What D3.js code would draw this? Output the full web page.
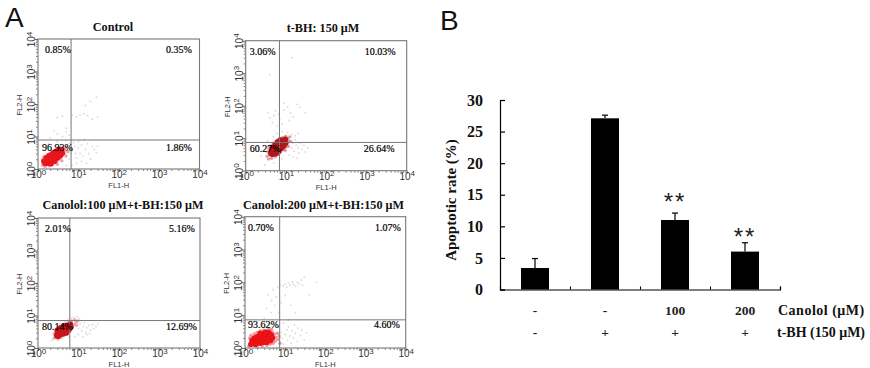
<!DOCTYPE html>
<html>
<head>
<meta charset="utf-8">
<script src="https://d3js.org/d3.v7.min.js"></script>
<style>
  html, body { margin: 0; padding: 0; background: #fff; }
  svg { display: block; }
</style>
</head>
<body>
<div id="chart"></div>
<script>
// Panel A: flow cytometry dot plots, values are [FL1-H, FL2-H]
const controlCore = [[1.4,1.7],[1.5,1.5],[1.6,1.8],[1.7,1.5],[1.8,2.0],[1.9,1.7],[2.0,1.6],[2.0,2.2],[2.2,1.9],[2.2,2.4],[2.4,2.1],[2.5,2.6],[2.6,2.2],[2.8,2.8],[2.9,2.4],[3.0,3.1],[3.2,2.8],[3.3,3.4],[3.6,3.3],[3.7,3.8],[1.6,2.2],[1.9,2.6],[2.3,3.0],[2.8,3.5],[3.3,4.0],[2.1,1.45],[2.6,1.75],[3.1,2.2],[3.6,2.6],[4.0,3.1]];
const controlMid = [[1.3,1.3],[1.3,2.0],[1.4,2.4],[1.7,2.7],[2.0,3.0],[2.3,3.4],[2.7,3.8],[3.1,4.2],[3.6,4.5],[4.2,4.3],[4.6,3.8],[4.4,3.0],[4.0,2.6],[3.6,2.2],[3.1,1.9],[2.7,1.6],[2.3,1.4],[1.9,1.25],[1.5,1.2],[5,4.6],[5.5,3.4],[4.9,2.5],[3.9,1.8],[3.0,1.4]];
const controlSparse = [[6,2],[6.5,3],[7,4],[8,5],[8.5,3],[9,2.2],[10,4.5],[11,3],[12,5.5],[13,2.5],[15,4],[17,6],[18,3],[20,2],[22,5],[25,4],[28,3.2],[7,1.3],[5,1.3],[9,1.5],[12,1.7],[16,1.5],[30,5],[2,9],[3,12],[4,10],[5,14],[2.5,15],[6,11],[3,38],[4,42],[7,45],[9,40],[11,46],[14,50],[17,44],[22,34],[15,90],[20,120],[28,160],[30,40],[5,18],[1.8,6],[3,7],[5,7.5],[6,6],[7.5,6.5],[10,7],[14,8]];

const tbhCore = [[4.2,3.4],[4.4,4.2],[4.6,3.2],[4.8,4.8],[5.0,3.8],[5.2,4.4],[5.4,5.4],[5.6,3.9],[5.8,4.8],[6.0,6.0],[6.2,4.4],[6.4,5.4],[6.6,6.8],[6.8,5.0],[7.0,6.2],[7.4,7.6],[7.6,5.8],[7.8,7.0],[8.2,8.4],[8.6,6.8],[9.0,8.0],[9.6,9.2],[4.6,5.2],[5.4,6.4],[6.2,7.6],[7.2,8.8],[5.6,3.3],[6.6,3.9],[7.6,4.8],[8.8,5.8],[9.8,7.0]];
const tbhMid = [[3.4,2.8],[3.5,3.8],[3.8,4.8],[4.2,5.8],[4.8,6.6],[5.4,7.6],[6.2,8.6],[7.2,9.6],[8.2,10.5],[9.8,11.5],[11,10],[11.5,8.4],[10.6,6.8],[9.8,5.4],[8.6,4.6],[7.4,3.9],[6.4,3.2],[5.4,2.7],[4.4,2.4],[3.7,2.3],[12.5,11],[13,8],[11.5,5.6],[9.6,4.2]];
const tbhSparse = [[14,5],[15,7],[16,4],[17,9],[18,6],[20,5],[21,3.5],[23,7],[25,4.5],[28,6],[30,3.8],[35,5],[12,3],[15,2.6],[19,2.4],[8,2.3],[5,1.7],[3,1.5],[2.4,2.8],[2.8,6],[3.5,8.5],[4.8,11],[6,14],[8,16],[11,15],[14,13],[17,12],[20,14],[4,42],[5,50],[3.6,60],[5.5,70],[7,38],[6.5,55],[9,75],[11,90],[13,60],[15,45],[12,35],[19,110],[8,28],[6,24],[30,60],[14,3000],[4,900],[22,90],[4.6,30],[9,120]];

const canololLowCore = [[2.9,2.4],[3.0,2.9],[3.2,2.3],[3.4,3.2],[3.5,2.6],[3.7,3.4],[3.8,2.8],[4.0,3.8],[4.1,3.1],[4.3,3.6],[4.4,4.2],[4.6,3.4],[4.8,4.0],[5.0,4.6],[5.2,3.8],[5.4,4.4],[5.7,5.0],[6.0,4.5],[6.3,5.4],[4.2,2.7],[4.9,3.2],[3.0,3.5],[3.6,4.2],[4.3,4.8],[5.0,2.9],[5.8,3.6],[6.5,4.4]];
const canololLowMid = [[2.5,2.0],[2.5,2.7],[2.8,3.4],[3.2,4.0],[3.7,4.6],[4.3,5.2],[5.0,5.8],[5.8,6.4],[6.8,6.8],[8.0,7.4],[8.6,6.2],[7.8,5.2],[7.0,4.4],[6.2,3.7],[5.4,3.1],[4.6,2.6],[3.8,2.2],[3.1,1.9],[9.5,6.8],[9.0,5.0]];
const canololLowSparse = [[10,4],[11,5.5],[12,3.4],[13,4.6],[14,6],[15,3],[16,4.2],[18,5],[20,3.6],[22,5.2],[24,4],[27,4.6],[10,2.6],[13,2.2],[8,2.2],[6,2.2],[2.2,1.7],[4,1.9],[5.5,7.4],[6.5,8.2],[7.5,8.8],[9,9.2],[10.5,8],[4.5,6.6],[3.4,5.6],[16,2.6],[30,5.6],[12,7],[19,2.8]];

const canololHighCore = [[1.4,1.3],[1.5,1.7],[1.6,1.4],[1.7,2.0],[1.8,1.3],[1.9,1.7],[2.0,1.4],[2.0,2.2],[2.2,1.6],[2.2,1.9],[2.3,2.4],[2.4,1.4],[2.5,1.8],[2.6,2.1],[2.7,1.5],[2.7,2.6],[2.9,1.9],[3.0,2.3],[3.0,1.5],[3.2,2.7],[3.3,1.8],[3.4,2.1],[3.5,1.5],[3.6,2.5],[3.8,1.9],[3.9,2.9],[4.1,2.2],[4.3,1.7],[4.5,2.5],[4.8,2.0],[3.2,3.0],[2.4,2.8]];
const canololHighMid = [[1.25,1.15],[1.3,2.0],[1.4,2.4],[1.7,2.7],[2.0,3.0],[2.4,3.3],[2.9,3.5],[3.5,3.4],[4.2,3.3],[4.9,3.0],[5.4,2.6],[5.8,2.1],[5.6,1.6],[5.0,1.4],[4.2,1.3],[3.5,1.2],[2.7,1.15],[2.0,1.12],[6.4,2.8],[6.6,1.8],[7.0,2.3],[7.4,1.4],[4.6,3.7],[3.9,3.8]];
const canololHighSparse = [[8,3],[8.5,2],[9,1.3],[10,2.6],[11,3.6],[11.5,1.7],[12,4.4],[13,2.3],[14,1.4],[15,3.4],[16,2],[17,5],[18,2.8],[20,1.6],[21,4],[24,2.4],[26,3.6],[30,1.8],[34,2.9],[7,4.6],[6,5.6],[9,5.8],[12,7],[4,5.8],[2.5,5],[3,8],[4.5,12],[3.4,16],[5.5,20],[4.6,28],[6,36],[3.8,42],[5,60],[6.5,70],[7.5,82],[9,78],[10,90],[11,72],[12,98],[13,82],[15,105],[16,88],[18,78],[20,100],[22,90],[25,118],[27,82],[30,145],[40,42],[60,100],[8,24],[10,40],[14,20],[18,12],[7,12]];

const panelTitles = ["Control", "t-BH: 150 μM", "Canolol:100 μM+t-BH:150 μM", "Canolol:200 μM+t-BH:150 μM"];
const panelPercents = [
  ["0.85%", "0.35%", "96.93%", "1.86%"],
  ["3.06%", "10.03%", "60.27%", "26.64%"],
  ["2.01%", "5.16%", "80.14%", "12.69%"],
  ["0.70%", "1.07%", "93.62%", "4.60%"]
];
const panelCores = [controlCore, tbhCore, canololLowCore, canololHighCore];
const panelMids = [controlMid, tbhMid, canololLowMid, canololHighMid];
const panelSparse = [controlSparse, tbhSparse, canololLowSparse, canololHighSparse];
const gateX = [6.6, 6.9, 6.1, 7.3];
const gateY = [7.8, 7.4, 7.0, 7.2];
const logTicks = [1, 10, 100, 1000, 10000];
const minorLogTicks = [2,3,4,5,6,7,8,9,20,30,40,50,60,70,80,90,200,300,400,500,600,700,800,900,2000,3000,4000,5000,6000,7000,8000,9000];

// Panel B: bar chart
const groups = ["ctrl", "tbh", "can100", "can200"];
const rates = [3.4, 27.1, 11, 6];
const rateErrors = [1.5, 0.5, 1.1, 1.4];
const significance = ["", "", "**", "**"];
const canololRow = ["-", "-", "100", "200"];
const tbhRow = ["-", "+", "+", "+"];
const yTicks = [0, 5, 10, 15, 20, 25, 30];
const xEdgeTicks = [1, 2, 3, 4];

const width = 870, height = 368;
const serif = "'Liberation Serif', serif";
const sans = "'Liberation Sans', sans-serif";

const svg = d3.select("#chart").append("svg")
  .attr("width", width)
  .attr("height", height)
  .style("background", "#ffffff");

// Slight blur so the dots read like the soft scan
svg.append("defs").append("filter").attr("id", "soft")
  .append("feGaussianBlur").attr("stdDeviation", 0.45);

// Panel frames in page pixels, plus text nudges
const panels = [
  { left: 38, right: 199.5, top: 39, bottom: 169, titleX: 113, titleY: 31, dotColor: "#e8141c", midColor: "#e8606a", tl: [7, 14], tr: [128, 14], bl: [4, 112], br: [128, 112] },
  { left: 245.7, right: 406.7, top: 40.7, bottom: 170.7, titleX: 323, titleY: 32, dotColor: "#b3141a", midColor: "#d0606a", tl: [4, 14], tr: [119, 14], bl: [4, 111], br: [118, 111] },
  { left: 38, right: 200, top: 218, bottom: 348, titleX: 123, titleY: 209, dotColor: "#c8141c", midColor: "#e27a8a", tl: [7, 14], tr: [131, 14], bl: [4, 112], br: [128, 112] },
  { left: 245, right: 405.7, top: 216.7, bottom: 348, titleX: 323.5, titleY: 209, dotColor: "#ea1218", midColor: "#e8505a", tl: [3, 14], tr: [130, 14], bl: [3, 111], br: [129, 111] }
];

function addPowerLabels(axisGroup, rotate) {
  axisGroup.selectAll(".tick text").each(function (d) {
    const t = d3.select(this);
    t.text("10").attr("fill", "#333");
    t.append("tspan")
      .attr("dy", -3.5)
      .style("font-size", "8px")
      .text(Math.round(Math.log10(d)));
    if (rotate) t.attr("transform", "rotate(-90)").attr("x", 0).attr("y", -3).attr("dy", 0).attr("text-anchor", "middle");
  });
}

panels.forEach((p, i) => {
  const x = d3.scaleLog().domain([1, 10000]).range([p.left, p.right]);
  const y = d3.scaleLog().domain([1, 10000]).range([p.bottom, p.top]);
  const g = svg.append("g").attr("class", "panel");

  // Dots go under the frame and the percent text
  const dots = g.append("g").attr("filter", "url(#soft)");
  dots.append("g").selectAll("circle").data(panelSparse[i]).join("circle")
    .attr("cx", d => x(d[0])).attr("cy", d => y(d[1])).attr("r", 0.9)
    .attr("fill", "#b4b4b4").attr("opacity", 0.5);
  dots.append("g").selectAll("circle").data(panelMids[i]).join("circle")
    .attr("cx", d => x(d[0])).attr("cy", d => y(d[1])).attr("r", 1.7)
    .attr("fill", p.midColor).attr("opacity", 0.6);
  dots.append("g").selectAll("circle").data(panelCores[i]).join("circle")
    .attr("cx", d => x(d[0])).attr("cy", d => y(d[1])).attr("r", 2.8)
    .attr("fill", p.dotColor);

  g.append("rect")
    .attr("x", p.left).attr("y", p.top)
    .attr("width", p.right - p.left).attr("height", p.bottom - p.top)
    .attr("fill", "none").attr("stroke", "#777").attr("stroke-width", 1.1);

  // Quadrant gates
  g.append("line").attr("x1", x(gateX[i])).attr("x2", x(gateX[i])).attr("y1", p.top).attr("y2", p.bottom)
    .attr("stroke", "#777").attr("stroke-width", 1);
  g.append("line").attr("x1", p.left).attr("x2", p.right).attr("y1", y(gateY[i])).attr("y2", y(gateY[i]))
    .attr("stroke", "#777").attr("stroke-width", 1);

  // Minor log ticks
  g.append("g").attr("transform", `translate(0,${p.bottom})`)
    .call(d3.axisBottom(x).tickValues(minorLogTicks).tickSize(2).tickFormat(""))
    .call(a => a.select(".domain").remove())
    .call(a => a.selectAll("line").attr("stroke", "#888"));
  g.append("g").attr("transform", `translate(${p.left},0)`)
    .call(d3.axisLeft(y).tickValues(minorLogTicks).tickSize(2).tickFormat(""))
    .call(a => a.select(".domain").remove())
    .call(a => a.selectAll("line").attr("stroke", "#888"));

  // Major ticks with 10^n labels
  const xAxis = g.append("g").attr("transform", `translate(0,${p.bottom})`)
    .call(d3.axisBottom(x).tickValues(logTicks).tickSize(3).tickPadding(-1))
    .style("font-family", sans).style("font-size", "10px");
  xAxis.select(".domain").remove();
  xAxis.selectAll("line").attr("stroke", "#666");
  addPowerLabels(xAxis, false);

  const yAxis = g.append("g").attr("transform", `translate(${p.left},0)`)
    .call(d3.axisLeft(y).tickValues(logTicks).tickSize(3).tickPadding(1))
    .style("font-family", sans).style("font-size", "10px");
  yAxis.select(".domain").remove();
  yAxis.selectAll("line").attr("stroke", "#666");
  addPowerLabels(yAxis, true);

  g.append("text")
    .attr("x", (p.left + p.right) / 2).attr("y", p.bottom + 19)
    .attr("text-anchor", "middle").attr("fill", "#333")
    .style("font-family", sans).style("font-size", "7.5px")
    .text("FL1-H");
  g.append("text")
    .attr("transform", `translate(${p.left - 16},${(p.top + p.bottom) / 2 + 1}) rotate(-90)`)
    .attr("text-anchor", "middle").attr("fill", "#333")
    .style("font-family", sans).style("font-size", "7.5px")
    .text("FL2-H");

  g.append("text")
    .attr("x", p.titleX).attr("y", p.titleY)
    .attr("text-anchor", "middle").attr("fill", "#111")
    .style("font-family", serif).style("font-weight", "bold").style("font-size", "12.2px")
    .text(panelTitles[i]);

  [p.tl, p.tr, p.bl, p.br].forEach((off, q) => {
    g.append("text")
      .attr("x", p.left + off[0]).attr("y", p.top + off[1])
      .attr("fill", "#000").attr("stroke", "#000").attr("stroke-width", 0.2)
      .style("font-family", serif).style("font-size", "10px")
      .text(panelPercents[i][q]);
  });
});

svg.append("text").attr("x", 5).attr("y", 27)
  .style("font-family", sans).style("font-size", "28px").attr("fill", "#111").text("A");
svg.append("text").attr("x", 440).attr("y", 30)
  .style("font-family", sans).style("font-size", "28px").attr("fill", "#111").text("B");

// Bar chart
const bar = svg.append("g").attr("class", "bars");
const xBand = d3.scaleBand().domain(groups).range([500, 780]).paddingInner(0.6).paddingOuter(0.3);
const xEdges = d3.scaleLinear().domain([0, 4]).range([500, 780]);
const yRate = d3.scaleLinear().domain([0, 30]).range([289.5, 100]);

bar.selectAll(".err").data(groups).join("line")
  .attr("class", "err")
  .attr("x1", d => xBand(d) + xBand.bandwidth() / 2)
  .attr("x2", d => xBand(d) + xBand.bandwidth() / 2)
  .attr("y1", (d, i) => yRate(rates[i]))
  .attr("y2", (d, i) => yRate(rates[i] + rateErrors[i]))
  .attr("stroke", "#000").attr("stroke-width", 1.2);
bar.selectAll(".cap").data(groups).join("line")
  .attr("class", "cap")
  .attr("x1", d => xBand(d) + xBand.bandwidth() / 2 - 3)
  .attr("x2", d => xBand(d) + xBand.bandwidth() / 2 + 3)
  .attr("y1", (d, i) => yRate(rates[i] + rateErrors[i]))
  .attr("y2", (d, i) => yRate(rates[i] + rateErrors[i]))
  .attr("stroke", "#000").attr("stroke-width", 1.2);
bar.selectAll(".bar").data(groups).join("rect")
  .attr("class", "bar")
  .attr("x", d => xBand(d))
  .attr("width", xBand.bandwidth())
  .attr("y", (d, i) => yRate(rates[i]))
  .attr("height", (d, i) => yRate(0) - yRate(rates[i]))
  .attr("fill", "#000");

const yAxisBar = bar.append("g").attr("transform", "translate(500,0)")
  .call(d3.axisLeft(yRate).tickValues(yTicks).tickSize(-5).tickPadding(17))
  .style("font-family", serif).style("font-size", "16px").style("font-weight", "bold");
yAxisBar.select(".domain").attr("stroke-width", 1.2);
yAxisBar.selectAll("line").attr("stroke-width", 1.2);
yAxisBar.selectAll("text").attr("fill", "#111");

const xAxisBar = bar.append("g").attr("transform", "translate(0,289.5)")
  .call(d3.axisBottom(xEdges).tickValues(xEdgeTicks).tickSize(-3).tickFormat(""));
xAxisBar.select(".domain").attr("stroke-width", 1.2);
xAxisBar.selectAll("line").attr("stroke-width", 1.1);

bar.append("text")
  .attr("transform", "translate(456,200) rotate(-90)")
  .attr("text-anchor", "middle").attr("fill", "#111")
  .style("font-family", serif).style("font-weight", "bold").style("font-size", "15px")
  .text("Apoptotic rate (%)");

// Star baselines sit at the error cap plus a per-group nudge
const sigNudge = [0, 0, -3, 2];
bar.selectAll(".sig").data(groups).join("text")
  .attr("class", "sig")
  .attr("x", d => xBand(d) + xBand.bandwidth() / 2)
  .attr("y", (d, i) => yRate(rates[i] + rateErrors[i]) + sigNudge[i])
  .attr("text-anchor", "middle").attr("fill", "#222")
  .style("font-family", sans).style("font-size", "24px").style("letter-spacing", "2px")
  .text((d, i) => significance[i]);

function addRow(values, y, label, labelX, spacing) {
  bar.append("g").selectAll("text").data(values).join("text")
    .attr("x", (d, i) => xBand(groups[i]) + xBand.bandwidth() / 2)
    .attr("y", y).attr("text-anchor", "middle").attr("fill", "#222")
    .style("font-family", serif).style("font-weight", "bold").style("font-size", "13.5px")
    .text(d => d);
  bar.append("text")
    .attr("x", labelX).attr("y", y)
    .attr("fill", "#111")
    .style("font-family", serif).style("font-weight", "bold").style("font-size", "14px")
    .style("letter-spacing", spacing)
    .text(label);
}
addRow(canololRow, 315, "Canolol (μM)", 778, "0.5px");
addRow(tbhRow, 337, "t-BH (150 μM)", 777, "0px");
</script>
</body>
</html>
